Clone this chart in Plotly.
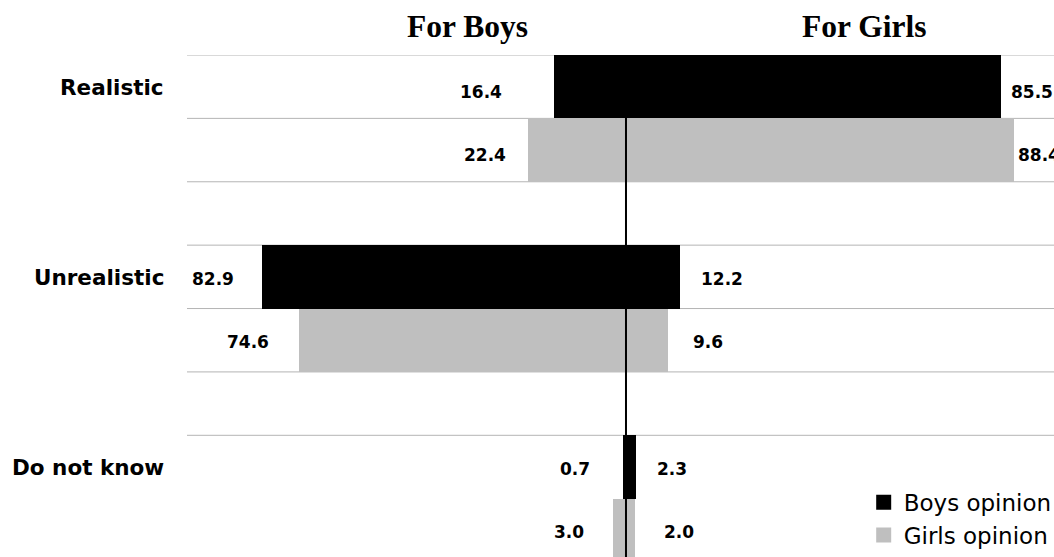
import plotly.graph_objects as go

# Survey answers (percent), split by who answered and whom the statement is about
categories = ["Realistic", "Unrealistic", "Do not know"]
boys_opinion_for_boys = [16.4, 82.9, 0.7]
boys_opinion_for_girls = [85.5, 12.2, 2.3]
girls_opinion_for_boys = [22.4, 74.6, 3.0]
girls_opinion_for_girls = [88.4, 9.6, 2.0]
side_titles = ["For Boys", "For Girls"]
series_names = ["Boys opinion", "Girls opinion"]

BLACK = "#000000"
GREY = "#bfbfbf"
GRID = "#b4b4b4"
LABEL_FONT = "DejaVu Sans"

# each category takes three rows: boys' answer, girls' answer, spacer
boys_rows = [3 * i for i in range(len(categories))]
girls_rows = [3 * i + 1 for i in range(len(categories))]

fig = go.Figure()

series = [
    (series_names[0], BLACK, boys_rows, boys_opinion_for_boys, boys_opinion_for_girls),
    (series_names[1], GREY, girls_rows, girls_opinion_for_boys, girls_opinion_for_girls),
]
for name, color, rows, left_vals, right_vals in series:
    fig.add_trace(go.Bar(
        y=rows, x=[-v for v in left_vals], base=0, orientation="h",
        width=1, marker=dict(color=color, line=dict(width=0)),
        name=name, legendgroup=name, showlegend=False,
    ))
    fig.add_trace(go.Bar(
        y=rows, x=right_vals, base=0, orientation="h",
        width=1, marker=dict(color=color, line=dict(width=0)),
        name=name, legendgroup=name, showlegend=False,
    ))
    # legend entry with a larger square swatch
    fig.add_trace(go.Scatter(
        x=[None], y=[None], mode="markers",
        marker=dict(symbol="square", size=15, color=color, line=dict(width=0)),
        name=name, legendgroup=name, showlegend=True,
    ))

# value labels beside the bar ends (pixel nudges per label)
left_shift = {"boys": [-50, -26, -31], "girls": [-20, -28, -27]}
right_shift = {"boys": [8, 19, 19], "girls": [2, 23, 27]}
row_yshift = [-5, -2, -2]
annotations = []
for key, rows, left_vals, right_vals in [
    ("boys", boys_rows, boys_opinion_for_boys, boys_opinion_for_girls),
    ("girls", girls_rows, girls_opinion_for_boys, girls_opinion_for_girls),
]:
    for i, r in enumerate(rows):
        annotations.append(dict(
            x=-left_vals[i], y=r, xref="x", yref="y", text=f"{left_vals[i]:.1f}",
            showarrow=False, xanchor="right", yanchor="middle",
            xshift=left_shift[key][i], yshift=row_yshift[i],
            font=dict(family=LABEL_FONT, size=17, color="black", weight="bold"),
        ))
        annotations.append(dict(
            x=right_vals[i], y=r, xref="x", yref="y", text=f"{right_vals[i]:.1f}",
            showarrow=False, xanchor="left", yanchor="middle",
            xshift=right_shift[key][i], yshift=row_yshift[i],
            font=dict(family=LABEL_FONT, size=17, color="black", weight="bold"),
        ))

# category names to the left of the plot
for i, cat in enumerate(categories):
    annotations.append(dict(
        x=0, y=boys_rows[i], xref="paper", yref="y", text=f"<b>{cat}</b>",
        showarrow=False, xanchor="right", yanchor="middle", xshift=-21, yshift=-1,
        font=dict(family=LABEL_FONT, size=21.5, color="black"),
    ))

# side headings
for xpos, title in zip([-36.2, 54.3], side_titles):
    annotations.append(dict(
        x=xpos, y=1.056, xref="x", yref="paper", text=f"<b>{title}</b>",
        showarrow=False, xanchor="center", yanchor="middle",
        font=dict(family="Liberation Serif", size=31.5, color="black"),
    ))

# horizontal separators between rows and the centre axis line
shapes = []
n_rows = 3 * len(categories) - 1
for b in range(n_rows - 1):
    shapes.append(dict(
        type="line", xref="paper", yref="y", x0=0, x1=1, y0=b - 0.5, y1=b - 0.5,
        line=dict(color=GRID, width=1), layer="below",
    ))
shapes.append(dict(
    type="line", xref="x", yref="paper", x0=0, x1=0, y0=0, y1=1,
    line=dict(color="black", width=2), layer="above",
))

fig.update_layout(
    width=1054, height=557,
    margin=dict(l=187, r=0, t=55, b=0, autoexpand=False),
    paper_bgcolor="white", plot_bgcolor="white",
    barmode="relative", bargap=0,
    xaxis=dict(range=[-100, 97.5], visible=False, showgrid=False, zeroline=False, fixedrange=True),
    yaxis=dict(range=[n_rows - 0.58, -0.5], visible=False, showgrid=False, zeroline=False, fixedrange=True),
    legend=dict(
        x=0.7805, y=0.152, xanchor="left", yanchor="top",
        bgcolor="white", borderwidth=0,
        font=dict(family=LABEL_FONT, size=23, color="black"),
        tracegroupgap=5, traceorder="normal",
    ),
    annotations=annotations,
    shapes=shapes,
    showlegend=True,
)

fig.write_html("out.html")
